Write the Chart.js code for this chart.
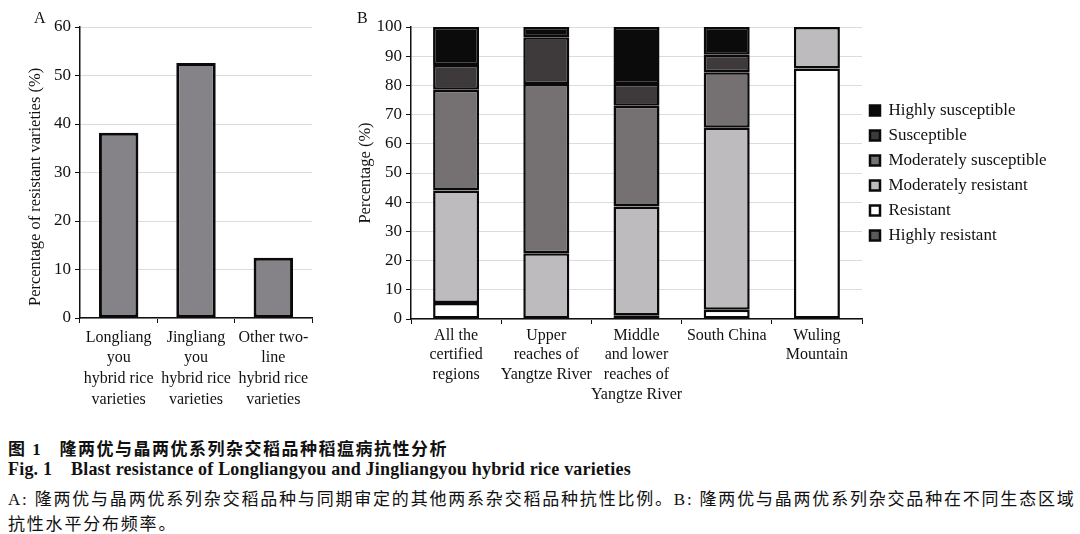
<!DOCTYPE html>
<html>
<head>
<meta charset="utf-8">
<script src="https://cdn.jsdelivr.net/npm/chart.js"></script>
<style>
  body { margin: 0; background: #fff; width: 1080px; height: 534px; overflow: hidden; position: relative; font-family: "Liberation Serif", "Noto Sans CJK SC", serif; }
  #wrapA { position: absolute; left: 0; top: 0; width: 340px; height: 420px; }
  #wrapB { position: absolute; left: 340px; top: 0; width: 740px; height: 420px; }
  .letter { position: absolute; font-size: 16px; color: #111; }
  .cap { position: absolute; left: 8px; color: #111; white-space: nowrap; }
</style>
</head>
<body>
<div id="wrapA"><canvas id="chartA" width="340" height="420"></canvas></div>
<div id="wrapB"><canvas id="chartB" width="740" height="420"></canvas></div>
<div class="letter" style="left:34px; top:9px;">A</div>
<div class="letter" style="left:357px; top:9px;">B</div>

<div class="cap" style="top:435px; font-size:17px; font-weight:bold; letter-spacing:1.5px;">图 1&nbsp;&nbsp;&nbsp;隆两优与晶两优系列杂交稻品种稻瘟病抗性分析</div>
<div class="cap" style="top:459px; font-size:18px; font-weight:bold; letter-spacing:0.2px;">Fig. 1&nbsp;&nbsp;&nbsp;&nbsp;Blast resistance of Longliangyou and Jingliangyou hybrid rice varieties</div>
<div class="cap" style="top:485px; font-size:17px; letter-spacing:1.8px;">A: 隆两优与晶两优系列杂交稻品种与同期审定的其他两系杂交稻品种抗性比例。B: 隆两优与晶两优系列杂交品种在不同生态区域</div>
<div class="cap" style="top:510px; font-size:17px; letter-spacing:1.8px;">抗性水平分布频率。</div>

<script>
// panel A: share of resistant varieties
const groupsA = [
  ['Longliang', 'you', 'hybrid rice', 'varieties'],
  ['Jingliang', 'you', 'hybrid rice', 'varieties'],
  ['Other two-', 'line', 'hybrid rice', 'varieties']
]
const resistantPct = [38.2, 52.6, 12.4]

// panel B: resistance level by region (percent, stacked bottom to top)
const regions = [
  ['All the', 'certified', 'regions'],
  ['Upper', 'reaches of', 'Yangtze River'],
  ['Middle', 'and lower', 'reaches of', 'Yangtze River'],
  ['South China'],
  ['Wuling', 'Mountain']
]
const highlyResistant = [0, 0, 0, 0, 0]
const resistant = [5.5, 0, 1.3, 3.2, 85.8]
const moderatelyResistant = [38.5, 22.5, 37.2, 62.3, 14.2]
const moderatelySusceptible = [34.5, 58, 34.5, 19, 0]
const susceptible = [8.5, 16, 7.5, 6, 0]
const highlySusceptible = [13, 3.5, 19.5, 9.5, 0]

const serif = '"Liberation Serif", "Times New Roman", serif'
Chart.defaults.font.family = serif
Chart.defaults.color = '#111'

function yScale(max, step, title, titlePad, width) {
  return {
    min: 0, max: max,
    ticks: { stepSize: step, font: { size: 17 }, padding: 4, color: '#111' },
    grid: { color: '#dcdcdc', lineWidth: 1, tickColor: '#111', tickLength: 5 },
    border: { color: '#111', width: 1.5 },
    title: { display: true, text: title, font: { size: 16.5 }, padding: { top: titlePad, bottom: 0 }, color: '#111' },
    afterFit: s => { s.width = width }
  }
}

function xScale(height, lineH, pad) {
  return {
    ticks: { font: { size: 16, lineHeight: lineH }, padding: pad, color: '#111', maxRotation: 0, autoSkip: false },
    grid: { drawOnChartArea: false, tickColor: '#111', tickLength: 5, offset: true },
    border: { color: '#111', width: 1.5 },
    afterFit: s => { s.height = height }
  }
}

new Chart(document.getElementById('chartA'), {
  type: 'bar',
  data: {
    labels: groupsA,
    datasets: [{
      data: resistantPct,
      backgroundColor: '#858387',
      borderColor: '#0a0a0a',
      borderWidth: 3,
      borderSkipped: false,
      barPercentage: 0.51,
      categoryPercentage: 1
    }]
  },
  options: {
    responsive: false,
    animation: false,
    layout: { padding: { left: 0, right: 28, top: 27, bottom: 0 } },
    plugins: { legend: { display: false }, tooltip: { enabled: false } },
    scales: {
      x: xScale(102, 1.3, 4),
      // trailing no-break spaces push the visible title down to where the reference has it
      y: yScale(60, 10, 'Percentage of resistant varieties (%)\u00a0\u00a0\u00a0\u00a0\u00a0\u00a0\u00a0', 26, 80)
    }
  }
})

const levelColors = ['#5a5a5a', '#ffffff', '#bdbbbe', '#757072', '#3e3a3b', '#0b0b0b']
const levelNames = ['Highly resistant', 'Resistant', 'Moderately resistant', 'Moderately susceptible', 'Susceptible', 'Highly susceptible']
const levelData = [highlyResistant, resistant, moderatelyResistant, moderatelySusceptible, susceptible, highlySusceptible]

// the layout caps a side legend at a quarter of the width, so widen it by hand
const legendWidth = {
  id: 'legendWidth',
  beforeInit(chart) {
    const fit = chart.legend.fit
    chart.legend.fit = function () {
      fit.call(chart.legend)
      this.width = 218
    }
  }
}

new Chart(document.getElementById('chartB'), {
  type: 'bar',
  data: {
    labels: regions,
    datasets: levelNames.map((name, i) => ({
      label: name,
      data: levelData[i],
      backgroundColor: levelColors[i],
      borderColor: '#0a0a0a',
      borderWidth: 2.5,
      borderSkipped: false,
      barPercentage: 0.51,
      categoryPercentage: 1
    }))
  },
  plugins: [legendWidth],
  options: {
    responsive: false,
    animation: false,
    layout: { padding: { left: 0, right: 0, top: 27, bottom: 0 } },
    plugins: {
      tooltip: { enabled: false },
      legend: {
        position: 'right',
        fullSize: false,
        reverse: true,
        labels: { boxWidth: 10, boxHeight: 10, padding: 8, font: { size: 17 }, color: '#111' }
      }
    },
    scales: {
      x: Object.assign(xScale(101, 1.22, 2), { stacked: true }),
      y: Object.assign(yScale(100, 10, 'Percentage (%)', 16, 71), { stacked: true })
    }
  }
})
</script>
</body>
</html>
